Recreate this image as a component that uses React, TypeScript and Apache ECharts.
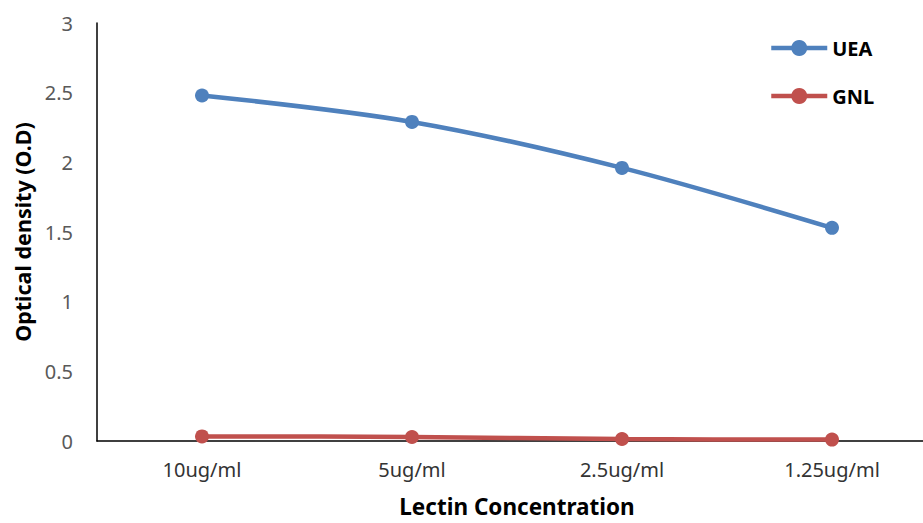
import React, { useEffect, useRef } from "react";
import * as echarts from "echarts";

const categories = ["10ug/ml", "5ug/ml", "2.5ug/ml", "1.25ug/ml"];
const ueaValues = [2.48, 2.29, 1.96, 1.53];
const gnlValues = [0.033, 0.029, 0.014, 0.01];
const seriesNames = ["UEA", "GNL"];
const yTitle = "Optical density (O.D)";
const xTitle = "Lectin Concentration";

export default function App() {
  const ref = useRef<HTMLDivElement>(null);
  useEffect(() => {
    if (!ref.current) return;
    const chart = echarts.init(ref.current, undefined, { renderer: "svg" });
    const font = "'Noto Sans', 'DejaVu Sans', sans-serif";
    chart.setOption({
      animation: false,
      textStyle: { fontFamily: font },
      grid: { left: 97, right: 0, top: 23, bottom: 79, containLabel: false },
      legend: {
        orient: "vertical",
        left: 764,
        top: 33,
        itemWidth: 56,
        itemHeight: 20,
        itemGap: 28,
        lineStyle: { width: 4.5 },
        textStyle: { fontFamily: font, fontSize: 20, fontWeight: "bold", color: "#000" },
        data: seriesNames,
      },
      xAxis: {
        type: "category",
        data: categories,
        boundaryGap: true,
        axisLine: { lineStyle: { color: "#000", width: 1.5 } },
        axisTick: { show: false },
        axisLabel: { color: "#333", fontSize: 20, margin: 18, fontFamily: font },
        name: xTitle,
        nameLocation: "middle",
        nameGap: 54,
        nameTextStyle: { fontSize: 22.5, fontWeight: "bold", color: "#000", fontFamily: font },
      },
      yAxis: {
        type: "value",
        min: 0,
        max: 3,
        interval: 0.5,
        axisLine: { show: true, lineStyle: { color: "#000", width: 1.5 } },
        axisTick: { show: false },
        splitLine: { show: false },
        axisLabel: { color: "#595959", fontSize: 20, margin: 24, fontFamily: font },
        name: yTitle,
        nameLocation: "middle",
        nameGap: 64,
        nameTextStyle: { fontSize: 21.5, fontWeight: "bold", color: "#000", fontFamily: font },
      },
      series: [
        {
          name: seriesNames[0],
          type: "line",
          data: ueaValues,
          smooth: 0.3,
          symbol: "circle",
          symbolSize: 14,
          lineStyle: { width: 4.5, color: "#4F81BD" },
          itemStyle: { color: "#4F81BD" },
        },
        {
          name: seriesNames[1],
          type: "line",
          data: gnlValues,
          smooth: 0.3,
          symbol: "circle",
          symbolSize: 14,
          lineStyle: { width: 4.5, color: "#C0504D" },
          itemStyle: { color: "#C0504D" },
        },
      ],
    });
    return () => chart.dispose();
  }, []);
  return (
    <div style={{ position: "fixed", left: 0, top: 0, width: 923, height: 523, overflow: "hidden", background: "#fff" }}>
      <div ref={ref} style={{ width: 937, height: 523 }} />
    </div>
  );
}
